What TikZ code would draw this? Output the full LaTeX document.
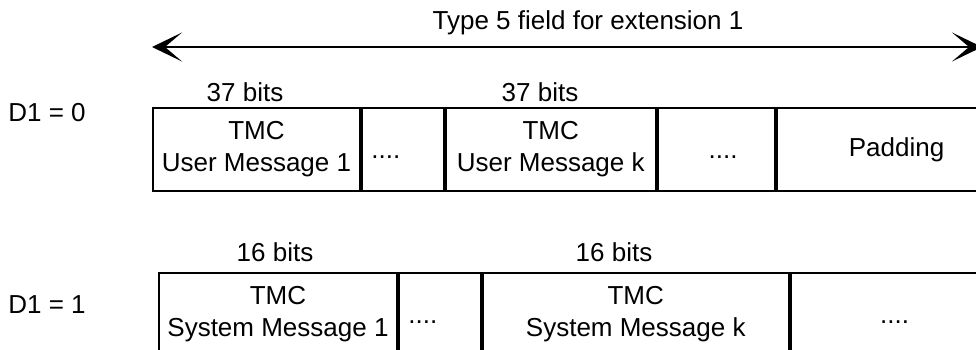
\documentclass[tikz,border=0pt]{standalone}
\usepackage{fontspec}
\setmainfont{Liberation Sans}
\usetikzlibrary{positioning,arrows.meta}

\newcommand{\gapdots}{\raisebox{-8pt}[\height][0pt]{....}}

\begin{document}
\begin{tikzpicture}[
    x=1pt, y=-1pt,
    font=\fontsize{26}{32}\selectfont,
    field/.style={draw, line width=1.9pt, anchor=north west, minimum height=83pt,
                  minimum width=#1, inner sep=0pt, align=center},
    lbl/.style={inner sep=0pt},
    span/.style={{Stealth[length=30pt, width=29pt, inset=17pt]}-{Stealth[length=30pt, width=29pt, inset=17pt]},
                 line width=1.9pt},
]
  \clip (0,0) rectangle (976,350);
  %% extension field, D1 = 0
  \node[field=207pt] (um1) at (152,107) {TMC\\User Message 1};
  \node[field=82pt] (ud1) at (um1.north east) {\gapdots\hspace*{34pt}};
  \node[field=210pt] (umk) at (ud1.north east) {TMC\\User Message k};
  \node[field=117pt] (ud2) at (umk.north east) {\hspace*{14pt}\gapdots};
  \node[field=240pt] (pad) at (ud2.north east) {Padding};
  %% extension field, D1 = 1
  \node[field=238pt] (sm1) at (158,272) {TMC\\System Message 1};
  \node[field=82pt] (sd1) at (sm1.north east) {\gapdots\hspace*{34pt}};
  \node[field=306pt] (smk) at (sd1.north east) {TMC\\System Message k};
  \node[field=220pt] (sd2) at (smk.north east) {\gapdots\hspace*{12pt}};
  %% labels
  \node[lbl] (d0) at (47,113) {D1 = 0};
  \node[lbl] (d1) at (47,305) {D1 = 1};
  \node[lbl] (b37a) at (245,92) {37 bits};
  \node[lbl] (b37b) at (540,92) {37 bits};
  \node[lbl] (b16a) at (275,252) {16 bits};
  \node[lbl] (b16b) at (614,252) {16 bits};
  %% overall length
  \coordinate (sl) at (152,47);
  \coordinate (sr) at (982,47);
  \node[lbl] (ext) at (588,23) {Type 5 field for extension 1};
  \draw[span] (sl) -- (sr);
\end{tikzpicture}
\end{document}
